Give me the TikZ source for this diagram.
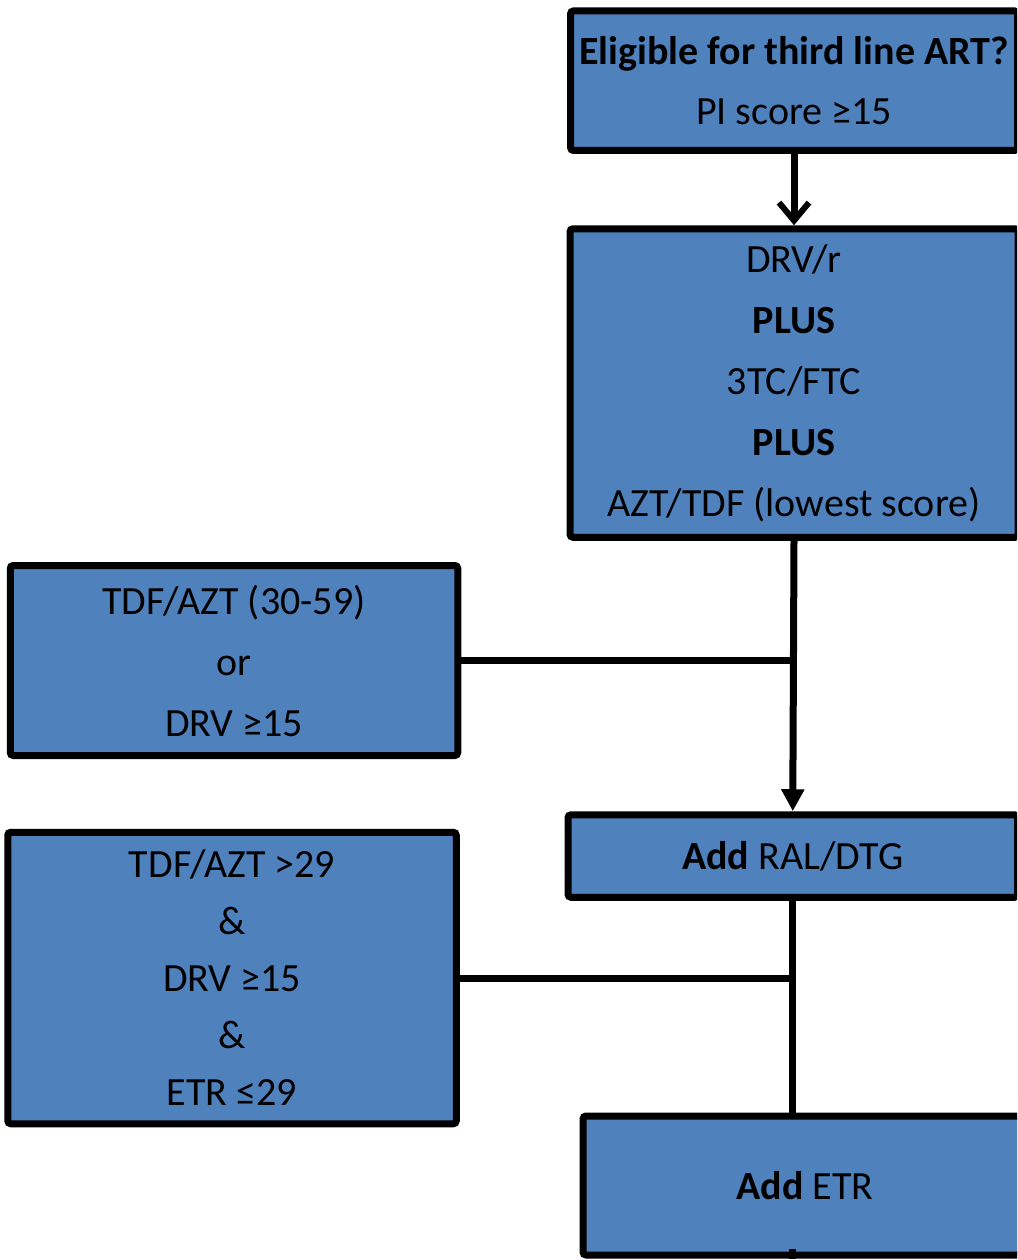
\documentclass[tikz,border=0pt]{standalone}
\usepackage{fontspec}
\setmainfont{Carlito}
\usetikzlibrary{arrows.meta,shadows}
\definecolor{boxblue}{RGB}{79,129,189}
\tikzset{
  flowbox/.style={draw=black, fill=boxblue, line width=7pt, rounded corners=3pt,
    inner sep=0pt, align=center, text=black,
    drop shadow={shadow xshift=2pt, shadow yshift=-3pt, opacity=0.25, fill=black}},
  conn/.style={draw=black, line width=7pt},
}
\begin{document}
\begin{tikzpicture}[x=1pt,y=-1pt]
\useasboundingbox (0,0) rectangle (1017,1260);
\clip (0,0) rectangle (1017,1260);
\node[flowbox, minimum width=447pt, minimum height=139.5pt,
  font=\fontsize{40}{60}\selectfont] (b1) at (794,80.7)
  {\textbf{Eligible for third line ART?}\\PI score ≥15};
\node[flowbox, minimum width=448pt, minimum height=308.5pt,
  font=\fontsize{40}{61}\selectfont] (b2) at (794,383)
  {DRV/r\\\textbf{PLUS}\\3TC/FTC\\\textbf{PLUS}\\AZT/TDF (lowest score)};
\node[flowbox, minimum width=447.5pt, minimum height=190pt,
  font=\fontsize{40}{61}\selectfont] (b3) at (234,660.5)
  {TDF/AZT (30-59)\\or\\DRV ≥15};
\node[flowbox, minimum width=449.5pt, minimum height=82.5pt,
  font=\fontsize{40}{61}\selectfont] (b4) at (792.75,856)
  {\textbf{Add} RAL/DTG};
\node[flowbox, minimum width=448.5pt, minimum height=291.5pt,
  font=\fontsize{40}{57}\selectfont] (b5) at (232,978)
  {TDF/AZT >29\\\&\\DRV ≥15\\\&\\ETR ≤29};
\node[flowbox, minimum width=444pt, minimum height=139pt,
  font=\fontsize{40}{61}\selectfont] (b6) at (805,1185.5)
  {\textbf{Add} ETR};
\coordinate (stub) at ([yshift=10pt]b6.south -| b4.south);
% connectors
\draw[conn, -{Straight Barb[length=18pt,width=30pt,line width=6pt]}] (b1.south) -- (b2.north);
\draw[conn, -{Triangle[length=22pt,width=22pt]}] (b2.south) -- (b4.north);
\draw[conn] (b3.east) -- (b3.east -| b2.south);
\draw[conn] (b4.south) -- (b4.south |- b6.north);
\draw[conn] (b5.east) -- (b5.east -| b4.south);
\draw[conn] (b6.south -| b4.south) -- (stub);
\end{tikzpicture}
\end{document}
